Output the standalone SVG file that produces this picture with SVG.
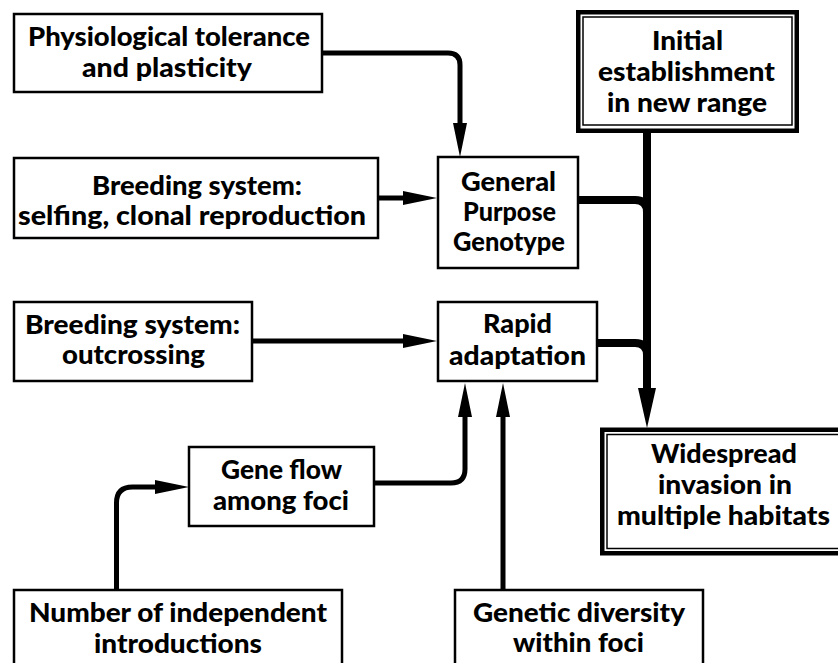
<svg xmlns="http://www.w3.org/2000/svg" width="838" height="663" viewBox="0 0 838 663">
<style>
.box{fill:#fff;stroke:#000;stroke-width:2.5}
.outer{fill:#fff;stroke:#000;stroke-width:4.5}
.inner{fill:none;stroke:#000;stroke-width:1.5}
.t{font-family:Lato,"Open Sans","Liberation Sans",sans-serif;font-weight:900;font-size:26px;fill:#000}
.thin{fill:none;stroke:#000;stroke-width:5}
.thick{fill:none;stroke:#000;stroke-width:8}
</style>
<defs>
<marker id="a" markerUnits="userSpaceOnUse" markerWidth="34" markerHeight="14" refX="0" refY="7" orient="auto" overflow="visible">
<path d="M0,0 L34,7 L0,14 Z" fill="#000"/>
</marker>
<marker id="A" markerUnits="userSpaceOnUse" markerWidth="40" markerHeight="18" refX="0" refY="9" orient="auto" overflow="visible">
<path d="M0,0 L40,9 L0,18 Z" fill="#000"/>
</marker>
</defs>
<rect width="838" height="663" fill="#fff"/>
<g id="connectors">
<path class="thin" d="M322,53 H448 Q460,53 460,65 V123" marker-end="url(#a)"/>
<path class="thin" d="M378,198 H403" marker-end="url(#a)"/>
<path class="thin" d="M252,341 H403" marker-end="url(#a)"/>
<path class="thin" d="M116.5,590 V503 Q116.5,487 132.5,487 H155" marker-end="url(#a)"/>
<path class="thin" d="M374,483 H451 Q465,483 465,469 V417" marker-end="url(#a)"/>
<path class="thin" d="M503,590 V417" marker-end="url(#a)"/>
<path class="thick" d="M578,200 H635 Q647,200 647,212"/>
<path class="thick" d="M597,343 H635 Q647,343 647,355"/>
<path class="thick" d="M647,133 V388" marker-end="url(#A)"/>
</g>
<g id="n-physio">
<rect class="box" x="14" y="14" width="308" height="78"/>
<text class="t" x="28" y="46" textLength="282" lengthAdjust="spacingAndGlyphs">Physiological tolerance</text>
<text class="t" x="82" y="77" textLength="170" lengthAdjust="spacingAndGlyphs">and plasticity</text>
</g>
<g id="n-selfing">
<rect class="box" x="14" y="158" width="364" height="80"/>
<text class="t" x="92" y="195" textLength="210" lengthAdjust="spacingAndGlyphs">Breeding system:</text>
<text class="t" x="18" y="225" textLength="348" lengthAdjust="spacingAndGlyphs">selfing, clonal reproduction</text>
</g>
<g id="n-gpg">
<rect class="box" x="438" y="157" width="140" height="111"/>
<text class="t" x="461" y="191" textLength="95" lengthAdjust="spacingAndGlyphs">General</text>
<text class="t" x="463" y="221" textLength="93" lengthAdjust="spacingAndGlyphs">Purpose</text>
<text class="t" x="453" y="251" textLength="112" lengthAdjust="spacingAndGlyphs">Genotype</text>
</g>
<g id="n-initial">
<rect class="outer" x="578.25" y="12.25" width="218.5" height="118.5"/>
<rect class="inner" x="583" y="17" width="209" height="108"/>
<text class="t" x="652" y="50" textLength="71" lengthAdjust="spacingAndGlyphs">Initial</text>
<text class="t" x="598" y="81" textLength="177" lengthAdjust="spacingAndGlyphs">establishment</text>
<text class="t" x="607" y="112" textLength="160" lengthAdjust="spacingAndGlyphs">in new range</text>
</g>
<g id="n-outcrossing">
<rect class="box" x="14" y="302" width="238" height="79"/>
<text class="t" x="25" y="334" textLength="215" lengthAdjust="spacingAndGlyphs">Breeding system:</text>
<text class="t" x="62" y="364" textLength="143" lengthAdjust="spacingAndGlyphs">outcrossing</text>
</g>
<g id="n-rapid">
<rect class="box" x="438" y="302" width="159" height="79"/>
<text class="t" x="483" y="333" textLength="69" lengthAdjust="spacingAndGlyphs">Rapid</text>
<text class="t" x="449" y="365" textLength="137" lengthAdjust="spacingAndGlyphs">adaptation</text>
</g>
<g id="n-geneflow">
<rect class="box" x="189" y="447" width="185" height="79"/>
<text class="t" x="221" y="479" textLength="121" lengthAdjust="spacingAndGlyphs">Gene flow</text>
<text class="t" x="213" y="510" textLength="136" lengthAdjust="spacingAndGlyphs">among foci</text>
</g>
<g id="n-widespread">
<rect class="outer" x="602.25" y="429.75" width="260" height="123.5"/>
<rect class="inner" x="607" y="434.5" width="250" height="114"/>
<text class="t" x="651" y="463" textLength="146" lengthAdjust="spacingAndGlyphs">Widespread</text>
<text class="t" x="658" y="494" textLength="134" lengthAdjust="spacingAndGlyphs">invasion in</text>
<text class="t" x="617" y="525" textLength="213" lengthAdjust="spacingAndGlyphs">multiple habitats</text>
</g>
<g id="n-number">
<rect class="box" x="14" y="590" width="328" height="100"/>
<text class="t" x="29" y="622" textLength="298" lengthAdjust="spacingAndGlyphs">Number of independent</text>
<text class="t" x="94" y="653" textLength="168" lengthAdjust="spacingAndGlyphs">introductions</text>
</g>
<g id="n-genetic">
<rect class="box" x="455" y="590" width="248" height="100"/>
<text class="t" x="473" y="622" textLength="212" lengthAdjust="spacingAndGlyphs">Genetic diversity</text>
<text class="t" x="513" y="652" textLength="131" lengthAdjust="spacingAndGlyphs">within foci</text>
</g>
</svg>
